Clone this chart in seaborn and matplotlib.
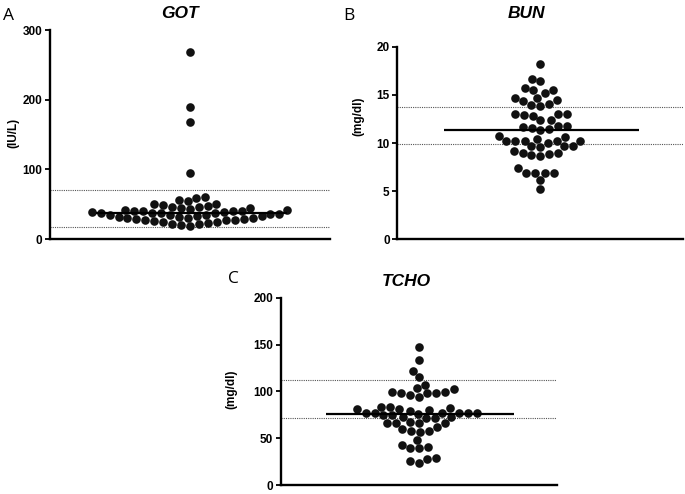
import matplotlib
matplotlib.use('Agg')
import matplotlib.pyplot as plt
import seaborn as sns

## values
got_values = [268, 190, 168, 95,
              61, 59, 56, 55, 51, 51, 49, 47, 46, 46,
              44, 44, 43, 42, 42, 41, 41, 40, 40, 39, 39, 38, 38, 37, 37,
              36, 36, 35,
              34, 34, 33, 33, 32, 32, 31, 31, 30, 29, 29, 28, 28, 27,
              26, 25, 25, 23, 22, 21, 20, 19]
bun_values = [18.2, 16.7, 16.45, 15.75, 15.5, 15.5, 15.2, 14.7, 14.7, 14.5, 14.4,
              14.1, 13.95, 13.85,
              12.98, 12.98, 12.98, 12.9, 12.83, 12.38, 12.35,
              11.8, 11.8, 11.7, 11.6, 11.5, 11.35,
              10.7, 10.6, 10.4, 10.26, 10.26, 10.26, 10.26, 10.26, 10.0,
              9.67, 9.67, 9.67, 9.57, 9.15, 9.0, 9.0, 8.84, 8.73, 8.63,
              7.4, 6.93, 6.93, 6.86, 6.86, 6.12, 5.18]
tcho_values = [147, 133.6, 122.2, 115.1, 106.9,
               103.4, 102.3, 99.8, 99.8, 98.7, 98.7, 98.1, 95.9, 94.5,
               83.8, 83.8, 82.7, 81.3, 81.3, 80.3, 79.2,
               77.4, 77.4, 77.4, 77.4, 77.4, 77.4, 76, 74.6, 74.6, 73.1, 73.1,
               71.4, 71.4, 67.8,
               66.1, 66.1, 66.1, 66.1, 61.8, 59.7, 57.9, 57.9, 56.8,
               48.3, 43, 40.5, 39.4, 39.4,
               28.8, 27.7, 26.2, 23.4]

## centre line and dotted reference range of each panel
got_center = 38
got_range = [18, 71]
bun_center = 11.35
bun_range = [9.85, 13.75]
tcho_center = 76.4
tcho_range = [72, 112]

got_ticks = [0, 100, 200, 300]
bun_ticks = [0, 5, 10, 15, 20]
tcho_ticks = [0, 50, 100, 150, 200]

sns.set_style('ticks')
plt.rcParams['font.family'] = ['Liberation Sans', 'DejaVu Sans']
plt.rcParams['text.color'] = 'black'
plt.rcParams['axes.labelcolor'] = 'black'
plt.rcParams['ytick.color'] = 'black'


def draw_panel(ax, values, center, ref, ticks, ylabel, label_xy):
    sns.swarmplot(y=values, ax=ax, color='#111111', size=6.2, linewidth=0)
    ## reference range as thin dotted lines
    for r in ref:
        ax.axhline(r, color='#555555', linestyle=(0, (1, 1)), linewidth=0.8, zorder=1)
    ax.hlines(center, -0.335, 0.345, color='black', linewidth=1.6, zorder=4)
    ax.set_xlim(-0.5, 0.5)
    ax.set_ylim(ticks[0], ticks[-1])
    ax.set_yticks(ticks)
    ax.set_xticks([])
    ax.tick_params(axis='y', direction='out', length=3.5, width=1.3, pad=2,
                   labelsize=8.5, colors='black')
    for t in ax.get_yticklabels():
        t.set_fontweight('bold')
    ax.set_ylabel(ylabel, fontsize=8.5, fontweight='bold', va='center')
    ax.yaxis.set_label_coords(*label_xy)
    sns.despine(ax=ax)
    for s in ['left', 'bottom']:
        ax.spines[s].set_linewidth(1.7)
        ax.spines[s].set_color('black')


fig = plt.figure(figsize=(6.85, 4.94), dpi=100)
ax_a = fig.add_axes([0.073, 0.516, 0.409, 0.423])
ax_b = fig.add_axes([0.580, 0.516, 0.4175, 0.389])
ax_c = fig.add_axes([0.410, 0.018, 0.403, 0.379])

draw_panel(ax_a, got_values, got_center, got_range, got_ticks, '(IU/L)', (-0.129, 0.507))
draw_panel(ax_b, bun_values, bun_center, bun_range, bun_ticks, '(mg/dl)', (-0.136, 0.641))
draw_panel(ax_c, tcho_values, tcho_center, tcho_range, tcho_ticks, '(mg/dl)', (-0.178, 0.513))

## titles and panel letters
title_kw = dict(fontsize=12.5, fontweight='bold', fontstyle='italic', ha='center', va='baseline')
fig.text(0.262, 0.9636, 'GOT', **title_kw)
fig.text(0.768, 0.9636, 'BUN', **title_kw)
fig.text(0.593, 0.421, 'TCHO', **title_kw)

letter_kw = dict(fontsize=12.5, family=['Open Sans', 'DejaVu Sans'], ha='center', va='baseline')
fig.text(0.013, 0.9595, 'A', **letter_kw)
fig.text(0.509, 0.9595, 'B', **letter_kw)
fig.text(0.341, 0.427, 'C', **letter_kw)

plt.savefig('out.png', dpi=100)
